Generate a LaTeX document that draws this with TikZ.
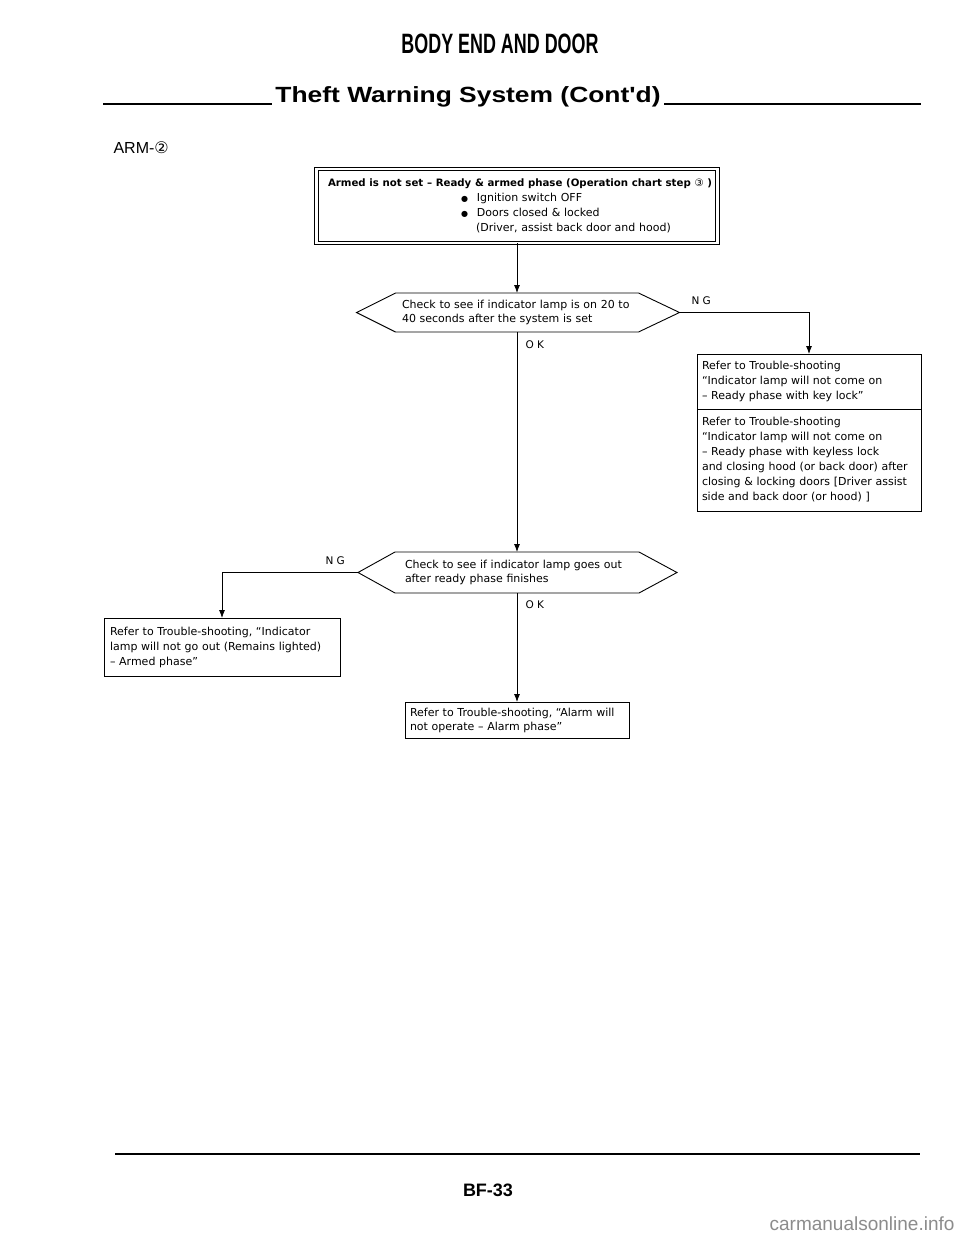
\documentclass[tikz,border=0pt]{standalone}
\usepackage{fontspec}
\setmainfont{DejaVu Sans}
\newfontfamily\headfont{Liberation Sans}
\usetikzlibrary{arrows.meta,positioning}
\tikzset{
	flowbox/.style={draw,line width=0.9pt,outer sep=0pt,inner ysep=0pt,inner xsep=5pt,align=left,font=\fontsize{11}{15}\selectfont},
	checktext/.style={inner sep=0pt,outer sep=0pt,align=left,font=\fontsize{11}{14}\selectfont},
	hexline/.style={line width=0.9pt},
	flowarrow/.style={line width=0.8pt,-{Latex[length=8pt,width=6pt]}},
	answer/.style={anchor=west,font=\fontsize{10.5}{12}\selectfont},
}
\newcommand{\blob}{{\fontsize{8}{8}\selectfont ●}}

\begin{document}
\begin{tikzpicture}[x=1pt,y=-1pt]
		\useasboundingbox[fill=white] (0,0) rectangle (960,1239);
		%labels
		\node (title) at (500,44) {\headfont\bfseries\fontsize{28}{28}\selectfont\scalebox{0.64}[1]{BODY END AND DOOR}};
		\node (subtitle) at (468,97) {\headfont\bfseries\fontsize{22}{22}\selectfont\scalebox{1.2}[1]{Theft Warning System (Cont'd)}};
		\draw [line width=1.6pt] (103,104) -- (subtitle.west |- 0,104);
		\draw [line width=1.6pt] (subtitle.east |- 0,104) -- (921,104);
		\node [anchor=west] (arm) at (110,148) {\headfont\fontsize{16}{16}\selectfont ARM-{\rmfamily ②}};
		%start
		\node [flowbox,double,double distance=2.6pt,line width=0.8pt,minimum width=401,minimum height=74,text width=378,inner xsep=0pt] (start) at (517,206)
			{\mbox{\bfseries\fontsize{10.2}{15}\selectfont Armed is not set -- Ready \& armed phase (Operation chart step {\mdseries ③} )}\\
			\hspace*{133pt}\blob\hspace{9pt}Ignition switch OFF\\
			\hspace*{133pt}\blob\hspace{9pt}Doors closed \& locked\\
			\hspace*{148pt}(Driver, assist back door and hood)};
		%first check
		\node [checktext,minimum width=243,minimum height=39,text width=230] (chk1) at (517,312.5)
			{Check to see if indicator lamp is on 20 to\\40 seconds after the system is set};
		\coordinate (chk1l) at ([xshift=-39pt]chk1.west);
		\coordinate (chk1r) at ([xshift=41pt]chk1.east);
		\draw [hexline] (chk1.north west) -- (chk1.north east) -- (chk1r) -- (chk1.south east)
			-- (chk1.south west) -- (chk1l) -- cycle;
		\node [answer] (ng1) at (688,301) {N G};
		\node [answer] (ok1) at (522,345) {O K};
		%lamp does not come on
		\node [flowbox,minimum width=224,minimum height=55,text width=214] (lampa) at (809,381.5)
			{Refer to Trouble-shooting\\``Indicator lamp will not come on\\-- Ready phase with key lock''};
		\node [flowbox,minimum width=224,minimum height=102,text width=214,below=0pt of lampa] (lampb)
			{Refer to Trouble-shooting\\``Indicator lamp will not come on\\-- Ready phase with keyless lock\\and closing hood (or back door) after\\closing \& locking doors [Driver assist\\side and back door (or hood) ]};
		%second check
		\node [checktext,minimum width=244,minimum height=41,text width=224] (chk2) at (517,572.5)
			{Check to see if indicator lamp goes out\\after ready phase finishes};
		\coordinate (chk2l) at ([xshift=-37pt]chk2.west);
		\coordinate (chk2r) at ([xshift=38pt]chk2.east);
		\draw [hexline] (chk2.north west) -- (chk2.north east) -- (chk2r) -- (chk2.south east)
			-- (chk2.south west) -- (chk2l) -- cycle;
		\node [answer] (ng2) at (322,561) {N G};
		\node [answer] (ok2) at (522,605) {O K};
		%lamp does not go out
		\node [flowbox,minimum width=236,minimum height=58,text width=224] (remain) at (222,647)
			{Refer to Trouble-shooting, ``Indicator\\lamp will not go out (Remains lighted)\\-- Armed phase''};
		%alarm
		\node [flowbox,minimum width=224,minimum height=36,text width=214,font=\fontsize{11}{14}\selectfont] (alarm) at (517,720)
			{Refer to Trouble-shooting, ``Alarm will\\not operate -- Alarm phase''};
		%connectors
		\draw [flowarrow] (start) -- (chk1);
		\draw [flowarrow] (chk1r) -| (lampa.north);
		\draw [flowarrow] (chk1) -- (chk2);
		\draw [flowarrow] (chk2l) -| (remain.north);
		\draw [flowarrow] (chk2) -- (alarm);
		%footer
		\draw [line width=2pt] (115,1154) -- (920,1154);
		\node (page) at (488,1190) {\headfont\bfseries\fontsize{18}{18}\selectfont BF-33};
		\node [anchor=east,text=black!45] (site) at (958,1224) {\headfont\fontsize{19}{19}\selectfont carmanualsonline.info};
	\end{tikzpicture}
\end{document}
